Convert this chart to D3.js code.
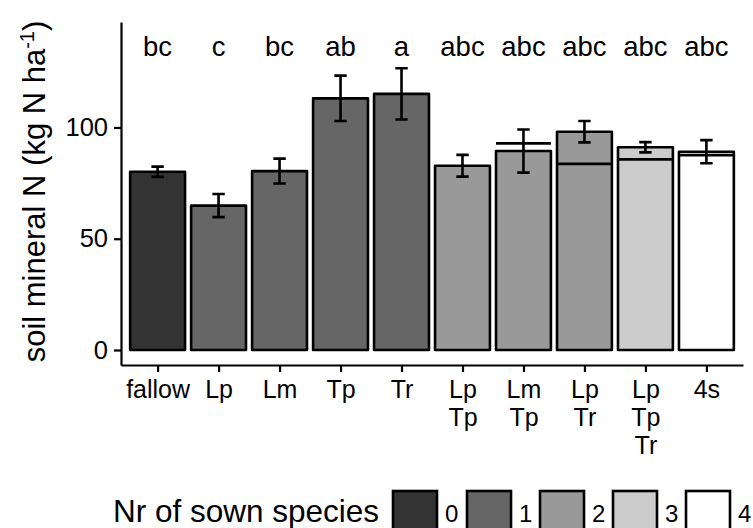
<!DOCTYPE html>
<html>
<head>
<meta charset="utf-8">
<script src="https://cdn.jsdelivr.net/npm/d3@7"></script>
<style>
  html, body { margin: 0; padding: 0; background: #fff; }
  svg { display: block; }
  text { font-family: "Liberation Sans", Arial, Helvetica, sans-serif; fill: #000; }
</style>
</head>
<body>
<svg id="chart" width="753" height="528"></svg>
<script>
// ---- data ----
const categories = ["fallow", "Lp", "Lm", "Tp", "Tr", "Lp\nTp", "Lm\nTp", "Lp\nTr", "Lp\nTp\nTr", "4s"];
const meanN      = [80.1, 64.9, 80.4, 113.1, 115.1, 82.8, 89.4, 98.1, 91.1, 89.1];
const seN        = [2.3, 5.2, 5.6, 10.2, 11.5, 4.9, 9.7, 4.8, 2.3, 5.2];
const expectedN  = [null, null, null, null, null, null, 92.9, 83.6, 85.7, 87.6];
const nSown      = [0, 1, 1, 1, 1, 2, 2, 2, 3, 4];
const sigLetters = ["bc", "c", "bc", "ab", "a", "abc", "abc", "abc", "abc", "abc"];
const legendLevels = [0, 1, 2, 3, 4];
const legendFills  = ["#333333", "#666666", "#999999", "#CCCCCC", "#FFFFFF"];
const yTicks = [0, 50, 100];
const letterY = 132;

const svg = d3.select("#chart");

const x = d3.scalePoint().domain(categories).range([121, 743]).padding(0.6);
const step = x.step();
const bw = step * 0.9;
const y = d3.scaleLinear().domain([-6.74, 147.4]).range([365, 22]);
const fill = d3.scaleOrdinal().domain(legendLevels).range(legendFills);

const data = categories.map((c, i) => ({
  cat: c, mean: meanN[i], se: seN[i], exp: expectedN[i], n: nSown[i], letter: sigLetters[i]
}));

// bars
svg.append("g").selectAll("rect").data(data).join("rect")
  .attr("x", d => x(d.cat) - bw / 2)
  .attr("width", bw)
  .attr("y", d => y(d.mean))
  .attr("height", d => y(0) - y(d.mean))
  .attr("fill", d => fill(d.n))
  .attr("stroke", "#000")
  .attr("stroke-width", 2.6)
  .attr("stroke-linejoin", "round");

// expected lines
svg.append("g").selectAll("line").data(data.filter(d => d.exp != null)).join("line")
  .attr("x1", d => x(d.cat) - bw / 2)
  .attr("x2", d => x(d.cat) + bw / 2)
  .attr("y1", d => y(d.exp))
  .attr("y2", d => y(d.exp))
  .attr("stroke", "#000")
  .attr("stroke-width", 2.8);

// error bars
const eb = svg.append("g").attr("stroke", "#000").attr("stroke-width", 2.6).attr("fill", "none");
const capW = 6.2;
data.forEach(d => {
  const cx = x(d.cat);
  eb.append("path")
    .attr("d", `M${cx - capW},${y(d.mean + d.se)}H${cx + capW}M${cx},${y(d.mean + d.se)}V${y(d.mean - d.se)}M${cx - capW},${y(d.mean - d.se)}H${cx + capW}`);
});

// letters
svg.append("g").selectAll("text").data(data).join("text")
  .attr("x", d => x(d.cat))
  .attr("y", y(letterY))
  .attr("text-anchor", "middle")
  .style("font-size", "27.5px")
  .text(d => d.letter);

// y axis
const yAxis = svg.append("g").attr("transform", "translate(121,0)")
  .call(d3.axisLeft(y).tickValues(yTicks).tickSize(7).tickPadding(6).tickSizeOuter(0));
yAxis.select(".domain").attr("stroke-width", 2.2);
yAxis.selectAll(".tick line").attr("stroke-width", 2.2);
yAxis.selectAll(".tick text").style("font-size", "25.5px").style("font-family", "Liberation Sans, Arial, sans-serif");

// x axis
const xAxis = svg.append("g").attr("transform", "translate(0,365)")
  .call(d3.axisBottom(x).tickSize(7).tickSizeOuter(0).tickFormat(""));
xAxis.select(".domain").attr("stroke-width", 2.2);
xAxis.selectAll(".tick line").attr("stroke-width", 2.2);
xAxis.selectAll(".tick text").remove();
xAxis.selectAll(".tick").each(function(d) {
  const t = d3.select(this).append("text")
    .attr("text-anchor", "middle")
    .attr("fill", "#000")
    .style("font-size", "25px")
    .style("font-family", "Liberation Sans, Arial, sans-serif");
  d.split("\n").forEach((line, i) => {
    t.append("tspan").attr("x", 0).attr("y", 33 + i * 28).text(line);
  });
});

// y title
const yt = svg.append("text")
  .attr("transform", `translate(45,${(18 + 365) / 2}) rotate(-90)`)
  .attr("text-anchor", "middle")
  .style("font-size", "31px");
yt.append("tspan").text("soil mineral N (kg N ha");
yt.append("tspan").attr("dy", "-0.55em").style("font-size", "20px").text("-1");
yt.append("tspan").attr("dy", "0.36em").text(")");

// legend
const lg = svg.append("g");
lg.append("text").attr("x", 113).attr("y", 522).style("font-size", "31.5px").text("Nr of sown species");
const keyX = [393, 467, 540, 613, 686];
legendLevels.forEach((lv, i) => {
  lg.append("rect")
    .attr("x", keyX[i]).attr("y", 491)
    .attr("width", 44).attr("height", 44)
    .attr("fill", fill(lv)).attr("stroke", "#000").attr("stroke-width", 2.6);
  lg.append("text").attr("x", keyX[i] + 52).attr("y", 522)
    .style("font-size", "24px").text(lv);
});
</script>
</body>
</html>
